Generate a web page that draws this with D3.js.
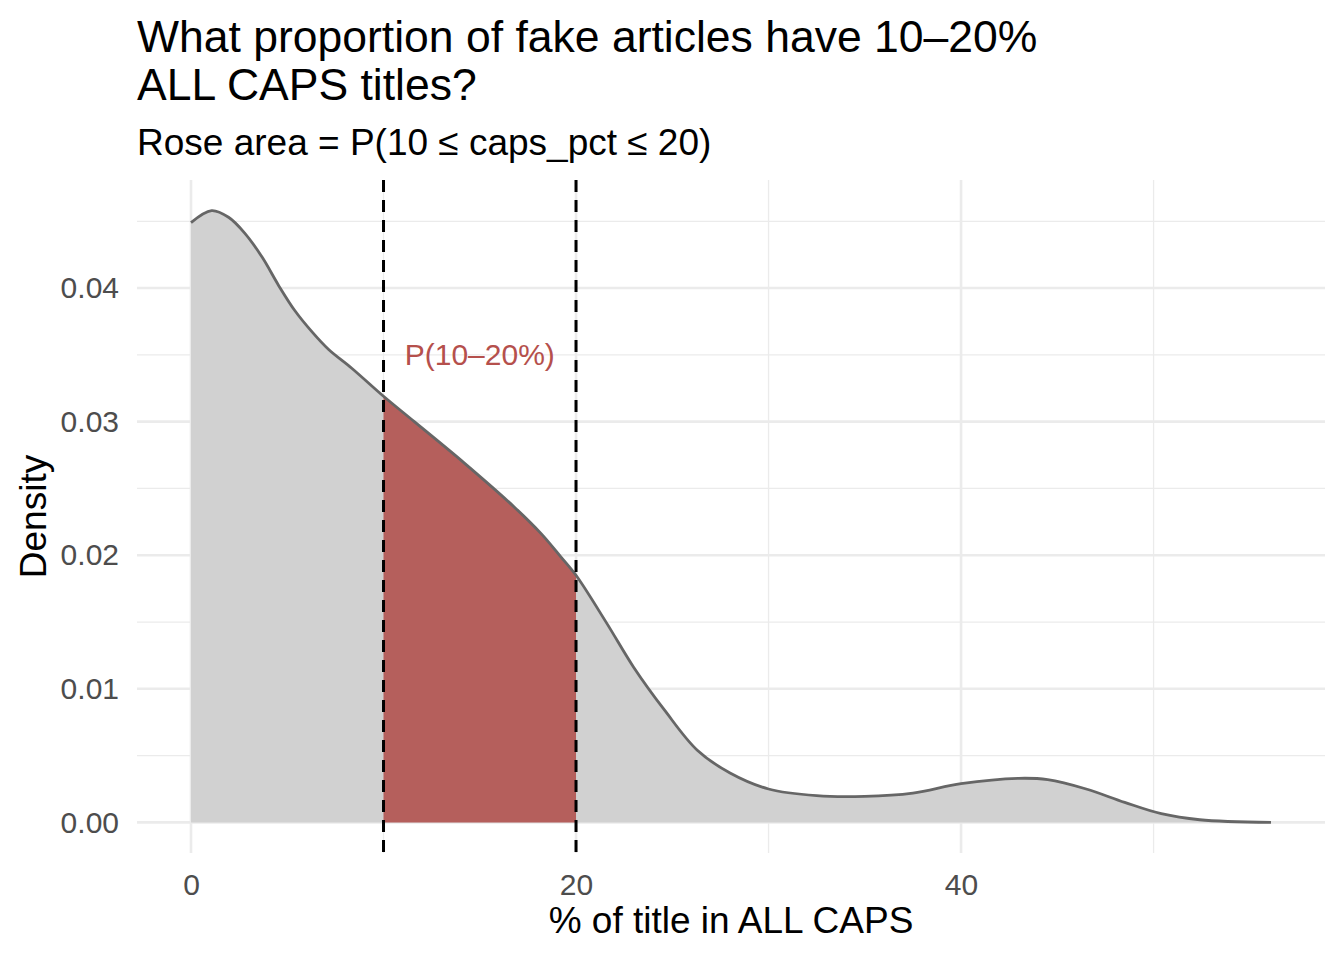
<!DOCTYPE html>
<html>
<head>
  <meta charset="utf-8">
  <script src="https://d3js.org/d3.v7.min.js"></script>
  <style>
    body { margin: 0; background: #fff; }
    svg text { font-family: "Liberation Sans", Arial, sans-serif; }
  </style>
</head>
<body>
<script>
  'use strict';

  // density curve (caps_pct, density)
  var capsPct = [0, 1.07, 1.95, 2.8, 3.7, 4.55, 5.4, 6.3, 7.15, 8.35, 10, 11.6, 14.2, 16.8, 18.2, 19.2, 20,
                 21.6, 23, 24.6, 26.3, 28, 30, 32.5, 35, 37.5, 40, 43, 44.5, 46.5, 48.5, 50.4, 52.4, 56.1];
  var density = [0.0449, 0.0458, 0.0453, 0.0441, 0.0423, 0.0402, 0.0383, 0.0367, 0.0354, 0.0340, 0.0319,
                 0.0300, 0.0269, 0.0236, 0.0216, 0.0199, 0.0185, 0.0149, 0.0116, 0.0084, 0.0054, 0.0037,
                 0.0025, 0.0020, 0.00195, 0.0022, 0.0029, 0.0033, 0.0032, 0.0025, 0.0015, 0.00065, 0.0002, 0.0];

  var bandLo = 10, bandHi = 20;
  var xTicks = [0, 20, 40];
  var xMinor = [10, 30, 50];
  var yTicks = [0, 0.01, 0.02, 0.03, 0.04];
  var yMinor = [0.005, 0.015, 0.025, 0.035, 0.045];

  var data = capsPct.map(function(d, i) { return { x: d, y: density[i] }; });
  var band = data.filter(function(d) { return d.x >= bandLo && d.x <= bandHi; });

  var W = 1344, H = 960;
  var panel = { left: 137, right: 1325, top: 180, bottom: 853 };

  var xMax = d3.max(capsPct), yMax = d3.max(density);
  var x = d3.scaleLinear()
    .domain([-0.05 * xMax, 1.05 * xMax])
    .range([panel.left, panel.right]);
  var y = d3.scaleLinear()
    .domain([-0.05 * yMax, 1.05 * yMax])
    .range([panel.bottom, panel.top]);

  var svg = d3.select('body').append('svg')
    .attr('width', W)
    .attr('height', H);

  // gridlines
  var grid = svg.append('g');
  grid.selectAll('.ymin').data(yMinor).enter().append('line')
    .attr('x1', panel.left).attr('x2', panel.right)
    .attr('y1', y).attr('y2', y)
    .attr('stroke', '#ebebeb').attr('stroke-width', 1.3);
  grid.selectAll('.xmin').data(xMinor).enter().append('line')
    .attr('y1', panel.top).attr('y2', panel.bottom)
    .attr('x1', x).attr('x2', x)
    .attr('stroke', '#ebebeb').attr('stroke-width', 1.3);
  grid.selectAll('.ymaj').data(yTicks).enter().append('line')
    .attr('x1', panel.left).attr('x2', panel.right)
    .attr('y1', y).attr('y2', y)
    .attr('stroke', '#ebebeb').attr('stroke-width', 2.6);
  grid.selectAll('.xmaj').data(xTicks).enter().append('line')
    .attr('y1', panel.top).attr('y2', panel.bottom)
    .attr('x1', x).attr('x2', x)
    .attr('stroke', '#ebebeb').attr('stroke-width', 2.6);

  var curve = d3.curveCatmullRom.alpha(0.5);
  var area = d3.area()
    .curve(curve)
    .x(function(d) { return x(d.x); })
    .y0(y(0))
    .y1(function(d) { return y(d.y); });
  var line = d3.line()
    .curve(curve)
    .x(function(d) { return x(d.x); })
    .y(function(d) { return y(d.y); });

  svg.append('path').datum(data)
    .attr('d', area)
    .attr('fill', '#d1d1d1');

  svg.append('path').datum(band)
    .attr('d', area)
    .attr('fill', '#b55f5c');

  svg.append('path').datum(data)
    .attr('d', line)
    .attr('fill', 'none')
    .attr('stroke', '#666666')
    .attr('stroke-width', 2.8);

  // band limits
  svg.selectAll('.vline').data([bandLo, bandHi]).enter().append('line')
    .attr('x1', x).attr('x2', x)
    .attr('y1', panel.top).attr('y2', panel.bottom)
    .attr('stroke', '#000')
    .attr('stroke-width', 3)
    .attr('stroke-dasharray', '12,8');

  svg.append('text')
    .attr('x', x(15)).attr('y', y(0.035))
    .attr('text-anchor', 'middle')
    .attr('dominant-baseline', 'central')
    .attr('fill', '#b5504c')
    .style('font-size', '30px')
    .text('P(10\u201320%)');

  // axes (no lines, only labels)
  var xAxis = svg.append('g')
    .attr('transform', 'translate(0,' + panel.bottom + ')')
    .call(d3.axisBottom(x).tickValues(xTicks).tickSize(0).tickPadding(21).tickFormat(d3.format('d')));
  xAxis.select('.domain').remove();
  xAxis.selectAll('text')
    .attr('fill', '#4d4d4d')
    .style('font-size', '30px')
    .style('font-family', '"Liberation Sans", Arial, sans-serif');

  var yAxis = svg.append('g')
    .attr('transform', 'translate(' + (panel.left - 18) + ',0)')
    .call(d3.axisLeft(y).tickValues(yTicks).tickSize(0).tickPadding(0).tickFormat(d3.format('.2f')));
  yAxis.select('.domain').remove();
  yAxis.selectAll('text')
    .attr('fill', '#4d4d4d')
    .style('font-size', '30px')
    .style('font-family', '"Liberation Sans", Arial, sans-serif');

  svg.append('text')
    .attr('x', (panel.left + panel.right) / 2).attr('y', 933)
    .attr('text-anchor', 'middle')
    .attr('fill', '#000')
    .style('font-size', '37px')
    .text('% of title in ALL CAPS');

  svg.append('text')
    .attr('transform', 'translate(46,' + ((panel.top + panel.bottom) / 2) + ') rotate(-90)')
    .attr('text-anchor', 'middle')
    .attr('fill', '#000')
    .style('font-size', '37px')
    .text('Density');

  // titles
  svg.append('text')
    .attr('x', panel.left).attr('y', 52)
    .attr('fill', '#000')
    .style('font-size', '44.5px')
    .text('What proportion of fake articles have 10\u201320%');
  svg.append('text')
    .attr('x', panel.left).attr('y', 100)
    .attr('fill', '#000')
    .style('font-size', '44.5px')
    .text('ALL CAPS titles?');
  svg.append('text')
    .attr('x', panel.left).attr('y', 155)
    .attr('fill', '#000')
    .style('font-size', '37px')
    .text('Rose area = P(10 \u2264 caps_pct \u2264 20)');
</script>
</body>
</html>
